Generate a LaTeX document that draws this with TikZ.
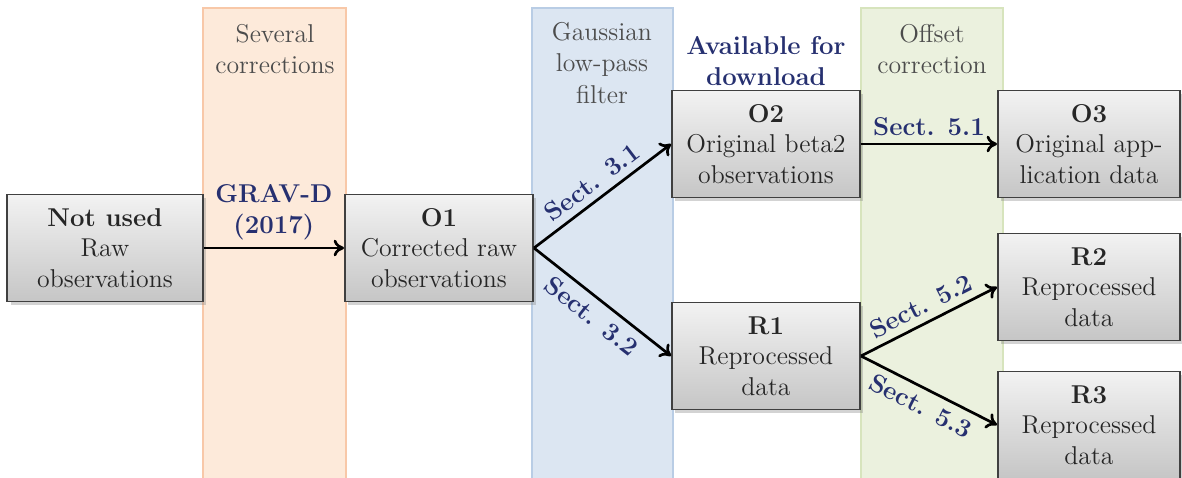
\documentclass[tikz,border=0pt]{standalone}
\usepackage{tikz}
\usetikzlibrary{arrows.meta,shadows}
\definecolor{secblue}{RGB}{38,48,112}
\definecolor{orfill}{RGB}{253,234,218}
\definecolor{ordraw}{RGB}{248,200,168}
\definecolor{blfill}{RGB}{220,230,242}
\definecolor{bldraw}{RGB}{185,205,229}
\definecolor{grfill}{RGB}{235,241,222}
\definecolor{grdraw}{RGB}{215,228,189}

\begin{document}
\begin{tikzpicture}[x=0.0169cm,y=-0.0169cm,
  box/.style={draw=black!75,line width=0.9pt,top color=gray!10,bottom color=gray!45,
    drop shadow={opacity=0.35,shadow xshift=1.5pt,shadow yshift=-1.5pt},
    align=center,font=\fontsize{12.4}{14.6}\selectfont,text=black!85,
    minimum height=1.81cm,inner sep=2pt},
  flow/.style={-{To[length=5pt,width=8pt]},line width=1.3pt},
  sect/.style={font=\fontsize{12.4}{14.6}\selectfont\bfseries,text=secblue},
  bandtxt/.style={font=\fontsize{12.4}{15}\selectfont,text=black!70,align=center}]
\useasboundingbox (0,0) rectangle (1182,478);
% processing steps (background bands)
\draw[fill=orfill,draw=ordraw,line width=1pt] (203,8) rectangle (346,482);
\draw[fill=blfill,draw=bldraw,line width=1pt] (532,8) rectangle (673,482);
\draw[fill=grfill,draw=grdraw,line width=1pt] (861,8) rectangle (1003,482);
\node[bandtxt] (corr) at (275,49) {Several\\corrections};
\node[bandtxt] (gauss) at (602,63) {Gaussian\\low-pass\\filter};
\node[bandtxt] (offset) at (932,49) {Offset\\correction};
\node[sect,align=center] (avail) at (766,61) {Available for\\download};
% data sets
\node[box,minimum width=3.3cm] (raw) at (105,248) {\textbf{Not used}\\Raw\\observations};
\node[box,minimum width=3.18cm] (o1) at (439,248) {\textbf{O1}\\Corrected raw\\observations};
\node[box,minimum width=3.18cm] (o2) at (766,144) {\textbf{O2}\\Original beta2\\observations};
\node[box,minimum width=3.18cm] (r1) at (766,356) {\textbf{R1}\\Reprocessed\\data};
\node[box,minimum width=3.08cm] (o3) at (1089,144) {\textbf{O3}\\Original app-\\lication data};
\node[box,minimum width=3.08cm] (r2) at (1089,287) {\textbf{R2}\\Reprocessed\\data};
\node[box,minimum width=3.08cm] (r3) at (1089,425) {\textbf{R3}\\Reprocessed\\data};
% arrows
\draw[flow] (raw.east) -- node[sect,above,align=center] {GRAV-D\\(2017)} (o1.west);
\draw[flow] (o1.east) -- node[sect,above,sloped] {Sect. 3.1} (o2.west);
\draw[flow] (o1.east) -- node[sect,below,sloped] {Sect. 3.2} (r1.west);
\draw[flow] (o2.east) -- node[sect,above] {Sect. 5.1} (o3.west);
\draw[flow] (r1.east) -- node[sect,above,sloped] {Sect. 5.2} (r2.west);
\draw[flow] (r1.east) -- node[sect,below,sloped] {Sect. 5.3} (r3.west);
\end{tikzpicture}
\end{document}
